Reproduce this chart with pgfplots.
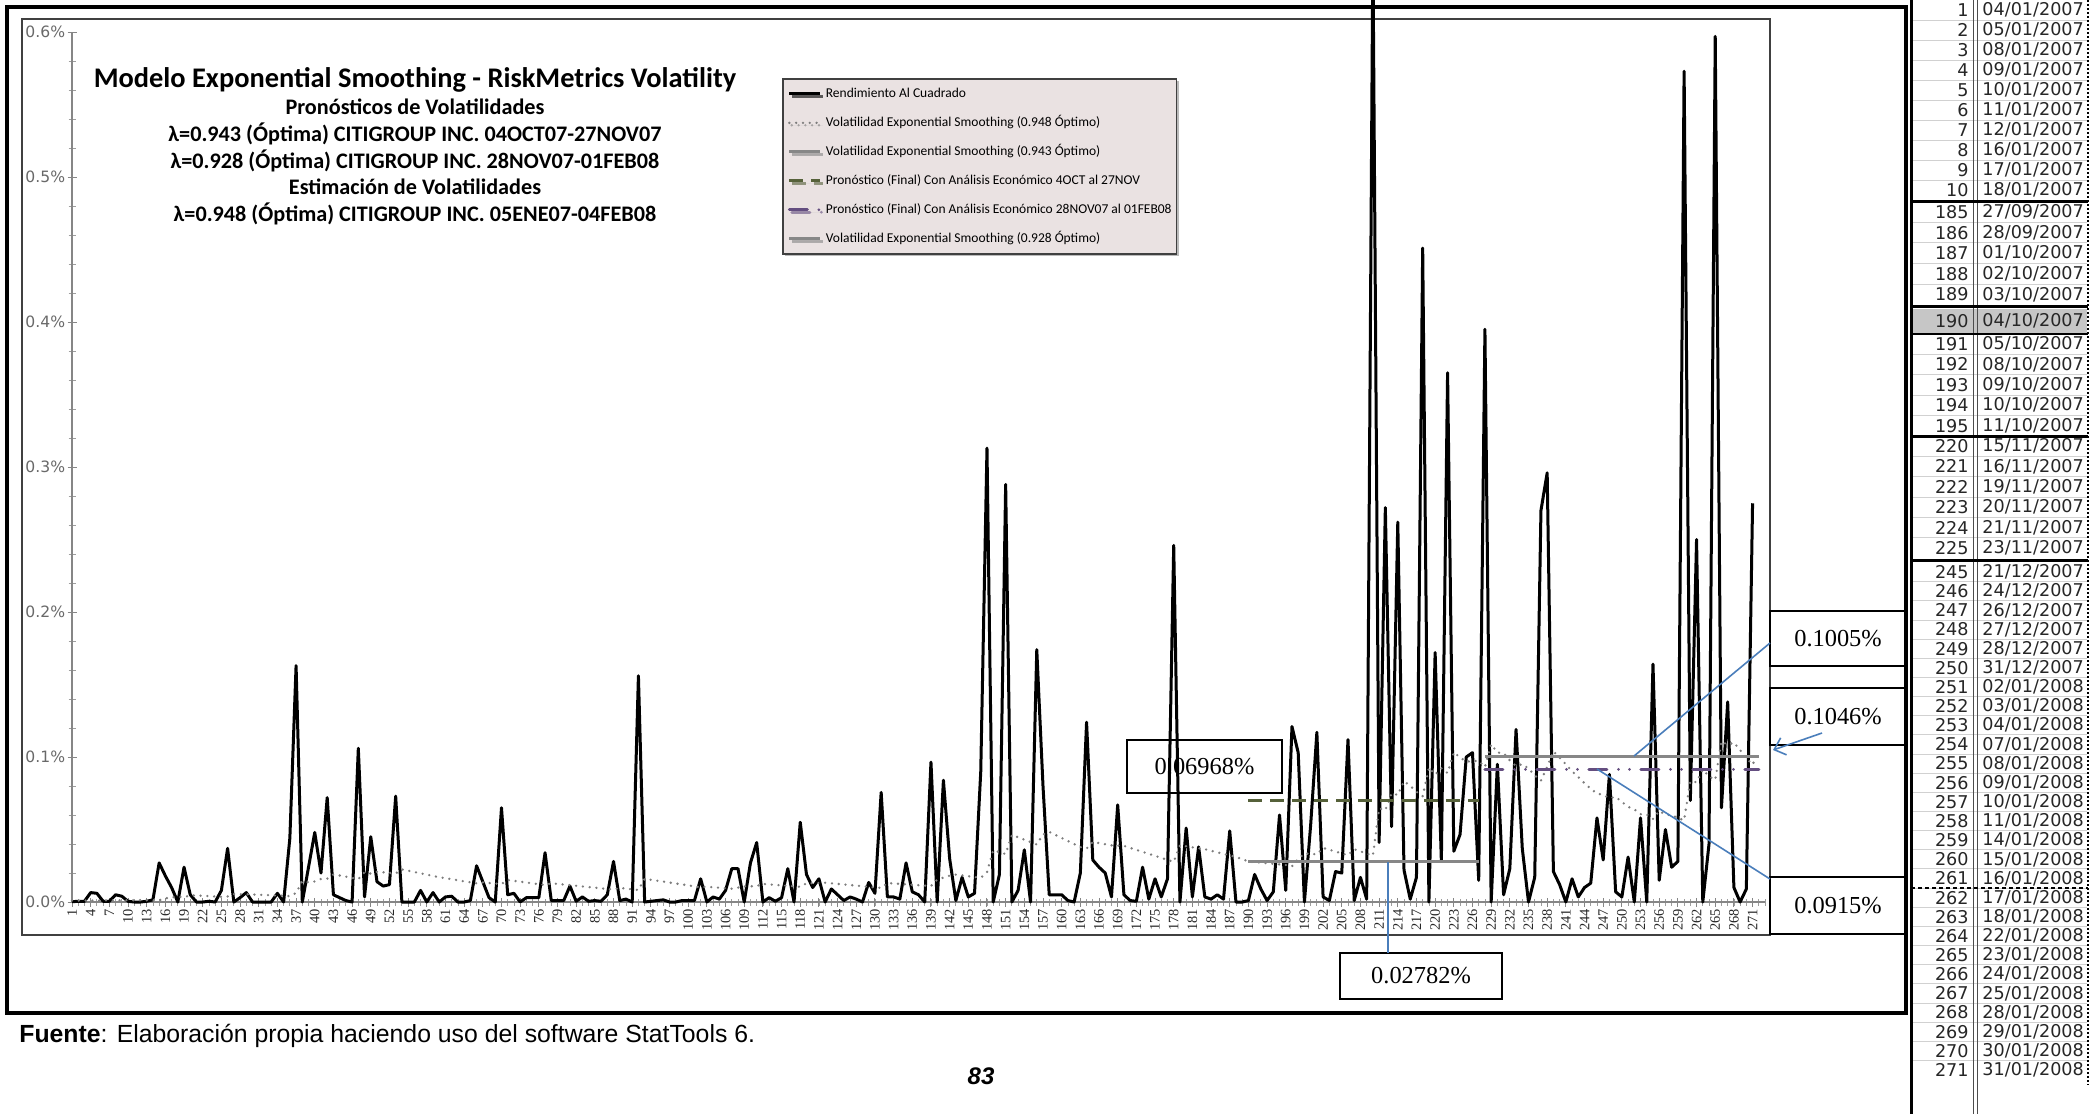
\documentclass[border=0pt]{standalone}
\usepackage{fontspec}
\setmainfont{Liberation Serif}
\newfontfamily\carlito{Carlito}
\newfontfamily\dejavu{DejaVu Sans}
\newfontfamily\arialf{Liberation Sans}
\newfontfamily\timesf{Liberation Serif}
\usepackage{pgfplots}
\pgfplotsset{compat=1.18}
\usetikzlibrary{shadows,arrows.meta}
\definecolor{axgray}{RGB}{134,134,134}
\definecolor{labgray}{RGB}{105,105,105}
\definecolor{fgray}{RGB}{135,135,135}
\definecolor{dotgray}{RGB}{125,125,125}
\definecolor{olivedash}{RGB}{86,97,58}
\definecolor{purp}{RGB}{100,78,128}
\definecolor{legbg}{RGB}{234,226,226}
\definecolor{annblue}{RGB}{74,126,187}
\begin{document}
\begin{tikzpicture}
\begin{scope}[x=0.5pt,y=-0.5pt]
\fill[white] (0,0) rectangle (2096,1114);
\draw[line width=0.8pt, draw=black!75] (22,19) rectangle (1770,935);
\end{scope}

\begin{axis}[
  at={(36pt,-451pt)}, anchor=south west,
  scale only axis, width=846.5pt, height=435pt,
  xmin=1, xmax=273, ymin=0, ymax=0.6,
  axis x line=bottom, axis y line=left,
  axis line style={-, draw=axgray, line width=0.6pt},
  clip=false, no markers,
  xtick={1,4,...,271},
  minor xtick={1,...,273},
  ytick={0,0.1,0.2,0.3,0.4,0.5,0.6},
  yticklabels={0.0\%,0.1\%,0.2\%,0.3\%,0.4\%,0.5\%,0.6\%},
  minor y tick num=4,
  tick align=center,
  major tick length=4.5pt, minor tick length=3.5pt,
  tick style={draw=axgray, line width=0.5pt},
  minor tick style={draw=axgray!80, line width=0.4pt},
  xticklabel={\pgfmathtruncatemacro\mytick{\tick}\mytick},
  xticklabel style={rotate=90, anchor=east, font=\timesf\fontsize{7.2}{7.5}\selectfont, text=black!85, inner sep=1pt},
  yticklabel style={font=\dejavu\fontsize{7.8}{8}\selectfont, text=labgray, inner sep=1pt},
  legend style={at={(axis description cs:0.4194,0.9471)}, anchor=north west, fill=legbg, draw=black!75, line width=0.8pt, inner xsep=2.5pt, inner ysep=4.2pt, font=\carlito\fontsize{6.75}{8}\selectfont, row sep=7.9pt, nodes={inner sep=0pt, text height=5pt, text depth=1.6pt}, /tikz/every odd column/.append style={column sep=2pt}, drop shadow={shadow xshift=1.2pt, shadow yshift=-1.2pt, fill=black!45, opacity=0.6}},
  legend cell align=left,
  legend image code/.code={\draw[#1] (0pt,0pt) -- (15.5pt,0pt);},
]
\addplot[black, line width=1.5pt, line join=round] coordinates {
(1,0.0002)(2,0.0005)(3,0.0005)(4,0.0065)(5,0.006)(6,0.0005)(7,0.0005)(8,0.005)(9,0.004)(10,0.0005)
(11,0)(12,0)(13,0.0005)(14,0.0015)(15,0.027)(16,0.018)(17,0.010)(18,0)(19,0.024)(20,0.005)
(21,0)(22,0)(23,0.0005)(24,0)(25,0.008)(26,0.037)(27,0)(28,0.003)(29,0.0065)(30,0)
(31,0)(32,0)(33,0)(34,0.006)(35,0)(36,0.044)(37,0.163)(38,0)(39,0.024)(40,0.048)
(41,0.020)(42,0.072)(43,0.005)(44,0.003)(45,0.001)(46,0)(47,0.106)(48,0.0035)(49,0.045)(50,0.014)
(51,0.011)(52,0.012)(53,0.073)(54,0)(55,0)(56,0)(57,0.008)(58,0)(59,0.0065)(60,0)
(61,0.0035)(62,0.004)(63,0)(64,0)(65,0.001)(66,0.025)(67,0.014)(68,0.003)(69,0)(70,0.065)
(71,0.005)(72,0.006)(73,0)(74,0.003)(75,0.003)(76,0.003)(77,0.034)(78,0.001)(79,0.001)(80,0.001)
(81,0.011)(82,0.0005)(83,0.0035)(84,0.0005)(85,0.001)(86,0.0005)(87,0.005)(88,0.028)(89,0.001)(90,0.002)
(91,0)(92,0.156)(93,0)(94,0.0005)(95,0.001)(96,0.0015)(97,0)(98,0)(99,0.001)(100,0.001)
(101,0.001)(102,0.016)(103,0)(104,0.0035)(105,0.002)(106,0.008)(107,0.023)(108,0.023)(109,0)(110,0.027)
(111,0.041)(112,0)(113,0.003)(114,0.0005)(115,0.003)(116,0.023)(117,0)(118,0.055)(119,0.019)(120,0.010)
(121,0.016)(122,0)(123,0.009)(124,0.005)(125,0.001)(126,0.0035)(127,0.002)(128,0)(129,0.0135)(130,0.006)
(131,0.0756)(132,0.0035)(133,0.0035)(134,0.002)(135,0.027)(136,0.007)(137,0.005)(138,0)(139,0.0965)(140,0)
(141,0.084)(142,0.030)(143,0.001)(144,0.017)(145,0.0035)(146,0.006)(147,0.09)(148,0.313)(149,0)(150,0.019)
(151,0.288)(152,0)(153,0.008)(154,0.036)(155,0)(156,0.174)(157,0.08)(158,0.005)(159,0.005)(160,0.005)
(161,0.001)(162,0)(163,0.02)(164,0.124)(165,0.029)(166,0.024)(167,0.02)(168,0.0035)(169,0.067)(170,0.005)
(171,0.001)(172,0.0005)(173,0.024)(174,0.002)(175,0.016)(176,0.0035)(177,0.016)(178,0.246)(179,0)(180,0.051)
(181,0.0035)(182,0.038)(183,0.0035)(184,0.002)(185,0.005)(186,0.002)(187,0.049)(188,0)(189,0)(190,0.001)
(191,0.019)(192,0.009)(193,0.001)(194,0.007)(195,0.06)(196,0.008)(197,0.121)(198,0.103)(199,0)(200,0.053)
(201,0.117)(202,0.0035)(203,0.001)(204,0.021)(205,0.02)(206,0.112)(207,0.001)(208,0.017)(209,0.002)(210,0.66)
(211,0.041)(212,0.272)(213,0.052)(214,0.262)(215,0.022)(216,0.002)(217,0.017)(218,0.451)(219,0)(220,0.172)
(221,0.028)(222,0.365)(223,0.035)(224,0.0465)(225,0.100)(226,0.103)(227,0.015)(228,0.395)(229,0)(230,0.095)
(231,0.005)(232,0.023)(233,0.119)(234,0.037)(235,0)(236,0.017)(237,0.27)(238,0.296)(239,0.021)(240,0.012)
(241,0)(242,0.016)(243,0.0035)(244,0.010)(245,0.013)(246,0.058)(247,0.029)(248,0.088)(249,0.007)(250,0.0035)
(251,0.031)(252,0)(253,0.058)(254,0)(255,0.164)(256,0.015)(257,0.05)(258,0.024)(259,0.028)(260,0.573)
(261,0.07)(262,0.25)(263,0)(264,0.04)(265,0.597)(266,0.065)(267,0.138)(268,0.01)(269,0)(270,0.009)
(271,0.275)};
\addlegendentry{Rendimiento Al Cuadrado}
\addplot[dotgray, line width=1.3pt, line cap=round, dash pattern=on 0pt off 3.4pt] coordinates {
(1,0.001)(10,0.0012)(15,0.0012)(16,0.0025)(17,0.0033)(18,0.0036)(19,0.0034)(20,0.0045)(21,0.0045)(25,0.0036)
(26,0.0038)(27,0.0055)(30,0.0052)(35,0.0043)(36,0.0041)(37,0.0062)(38,0.0144)(39,0.0136)(40,0.0142)(41,0.0159)
(42,0.0161)(43,0.0190)(44,0.0183)(47,0.0158)(48,0.0205)(49,0.0196)(50,0.0209)(53,0.0197)(54,0.0225)(60,0.0171)
(66,0.0129)(67,0.0135)(70,0.0124)(71,0.0152)(77,0.0117)(78,0.0129)(88,0.0086)(89,0.0097)(92,0.0083)(93,0.0160)
(102,0.0102)(103,0.0105)(107,0.0092)(109,0.0107)(111,0.0110)(112,0.0125)(118,0.0105)(119,0.0129)(122,0.0133)(131,0.0097)
(132,0.0131)(139,0.0110)(140,0.0154)(142,0.0182)(143,0.0189)(147,0.0167)(148,0.0205)(149,0.0357)(151,0.0331)(152,0.0463)
(156,0.0397)(157,0.0466)(158,0.0484)(163,0.0379)(164,0.0369)(165,0.0414)(168,0.0391)(170,0.0387)(178,0.0277)(179,0.0391)
(183,0.0364)(188,0.0311)(190,0.0280)(196,0.0255)(197,0.0246)(198,0.0296)(199,0.0335)(201,0.0329)(202,0.0373)(206,0.0323)
(207,0.0364)(210,0.0320)(211,0.0646)(212,0.0633)(213,0.0750)(214,0.0738)(215,0.0833)(216,0.0801)(217,0.0760)(218,0.0730)
(219,0.0927)(220,0.0879)(221,0.0922)(222,0.0889)(223,0.1033)(224,0.0997)(225,0.0969)(226,0.0971)(227,0.0974)(228,0.0931)
(229,0.1088)(230,0.1031)(231,0.1027)(232,0.0977)(233,0.0938)(234,0.0951)(235,0.0921)(236,0.0873)(237,0.0837)(238,0.0933)
(239,0.1039)(240,0.0996)(241,0.0950)(242,0.0901)(243,0.0862)(244,0.0819)(245,0.0781)(246,0.0748)(247,0.0739)(248,0.0716)
(249,0.0725)(250,0.0691)(251,0.0657)(252,0.0639)(253,0.0606)(254,0.0604)(255,0.0573)(256,0.0628)(257,0.0603)(258,0.0598)
(259,0.0579)(260,0.0564)(261,0.0833)(262,0.0826)(263,0.0913)(264,0.0866)(265,0.0842)(266,0.1108)(267,0.1084)(268,0.1100)
(269,0.1048)(270,0.0994)(271,0.0947)(272,0.1041)};
\addlegendentry{Volatilidad Exponential Smoothing (0.948 Óptimo)}
\addplot[fgray, line width=1.5pt] coordinates {(190,0.02782) (227,0.02782)};
\addlegendentry{Volatilidad Exponential Smoothing (0.943 Óptimo)}
\addplot[olivedash, line width=1.5pt, dash pattern=on 7pt off 4pt] coordinates {(190,0.06968) (227,0.06968)};
\addlegendentry{Pronóstico (Final) Con Análisis Económico 4OCT al 27NOV}
\addplot[purp, line width=1.5pt, line cap=round, dash pattern=on 9pt off 5.75pt on 0pt off 5.5pt on 0pt off 5.75pt] coordinates {(228,0.0915) (272,0.0915)};
\addlegendentry{Pronóstico (Final) Con Análisis Económico 28NOV07 al 01FEB08}
\addplot[fgray, line width=1.5pt] coordinates {(228,0.1005) (272,0.1005)};
\addlegendentry{Volatilidad Exponential Smoothing (0.928 Óptimo)}
\end{axis}

\begin{scope}[x=0.5pt,y=-0.5pt]
% titles
\node[font=\carlito\bfseries\fontsize{14.2}{16}\selectfont] at (415,80) {Modelo Exponential Smoothing - RiskMetrics Volatility};
\begin{scope}[every node/.style={font=\carlito\bfseries\fontsize{11.1}{12}\selectfont}]
\node at (415,107) {Pronósticos de Volatilidades};
\node at (415,134) {λ=0.943 (Óptima) CITIGROUP INC. 04OCT07-27NOV07};
\node at (415,161) {λ=0.928 (Óptima) CITIGROUP INC. 28NOV07-01FEB08};
\node at (415,187) {Estimación de Volatilidades};
\node at (415,214) {λ=0.948 (Óptima) CITIGROUP INC. 05ENE07-04FEB08};
\end{scope}
% annotation boxes
\begin{scope}[every node/.style={font=\timesf\fontsize{12.2}{14}\selectfont}]
\draw[line width=0.7pt] (1127,740) rectangle (1282,793); \node at (1204.5,766.5) {0.06968\%};
\draw[line width=0.7pt] (1340,953) rectangle (1502,999); \node at (1421,976) {0.02782\%};
\draw[line width=0.7pt] (1770,611) rectangle (1906,666); \node at (1838,638.5) {0.1005\%};
\draw[line width=0.7pt] (1770,688) rectangle (1906,745); \node at (1838,716.5) {0.1046\%};
\draw[line width=0.7pt] (1770,877) rectangle (1906,934); \node at (1838,905.5) {0.0915\%};
\end{scope}
\draw[annblue, line width=0.8pt] (1770,643) -- (1634,756);
\draw[annblue, line width=0.8pt] (1770,879) -- (1597,769);
\draw[annblue, line width=0.8pt, -{Straight Barb[length=5pt,width=9pt]}] (1822,733) -- (1773,750);
\draw[annblue, line width=0.8pt] (1388,862) -- (1388,953);
% outer frame
\draw[line width=2pt] (7,7) rectangle (1906,1013);
% footer
\node[anchor=west, font=\arialf\fontsize{12.4}{14}\selectfont, inner sep=0pt] at (19,1036) {\textbf{Fuente}: Elaboración propia haciendo uso del software StatTools 6.};
\node[font=\arialf\bfseries\itshape\fontsize{12}{14}\selectfont] at (981,1076) {83};
% table
\fill[gray!45] (1913,309) rectangle (2087,333);
\foreach \y in {10,30,50,70,90,110,130,150,170,212,232.6,253.2,273.8,344,364.4,384.8,405.2,446,466.4,486.8,507.2,527.6}
  \draw[black!18, line width=0.4pt] (1913,\y+10.2) -- (2087,\y+10.2);
\foreach \k in {0,...,25}
  \draw[black!18, line width=0.4pt] (1913,581.6+19.15*\k) -- (2087,581.6+19.15*\k);
\begin{scope}[every node/.style={font=\dejavu\fontsize{8.8}{10}\selectfont, text=black!85, inner sep=0pt}]
\foreach \y/\n/\dd/\mm/\yy in {10/1/04/01/2007, 30/2/05/01/2007, 50/3/08/01/2007, 70/4/09/01/2007, 90/5/10/01/2007, 110/6/11/01/2007, 130/7/12/01/2007, 150/8/16/01/2007, 170/9/17/01/2007, 190/10/18/01/2007,
212/185/27/09/2007, 232.6/186/28/09/2007, 253.2/187/01/10/2007, 273.8/188/02/10/2007, 294.4/189/03/10/2007, 321/190/04/10/2007,
344/191/05/10/2007, 364.4/192/08/10/2007, 384.8/193/09/10/2007, 405.2/194/10/10/2007, 425.6/195/11/10/2007,
446/220/15/11/2007, 466.4/221/16/11/2007, 486.8/222/19/11/2007, 507.2/223/20/11/2007, 527.6/224/21/11/2007, 548/225/23/11/2007,
572/245/21/12/2007, 591.2/246/24/12/2007, 610.3/247/26/12/2007, 629.5/248/27/12/2007, 648.6/249/28/12/2007, 667.8/250/31/12/2007,
686.9/251/02/01/2008, 706.1/252/03/01/2008, 725.2/253/04/01/2008, 744.4/254/07/01/2008, 763.5/255/08/01/2008, 782.7/256/09/01/2008,
801.8/257/10/01/2008, 821/258/11/01/2008, 840.1/259/14/01/2008, 859.3/260/15/01/2008, 878.4/261/16/01/2008, 897.6/262/17/01/2008,
916.7/263/18/01/2008, 935.9/264/22/01/2008, 955/265/23/01/2008, 974.2/266/24/01/2008, 993.3/267/25/01/2008, 1012.5/268/28/01/2008,
1031.6/269/29/01/2008, 1050.8/270/30/01/2008, 1069.9/271/31/01/2008}
{ \node[anchor=east] at (1969,\y) {\n}; \node[anchor=west] at (1982,\y) {\dd/\mm/\yy}; }
\end{scope}
\draw[line width=1.5pt] (1911,0) -- (1911,1114);
\draw[line width=0.5pt, black!70] (1973,0) -- (1973,1114);
\draw[line width=0.5pt, black!70] (1977,0) -- (1977,1114);
\draw[line width=0.7pt, dash pattern=on 1pt off 1pt] (2088,0) -- (2088,1085);
\foreach \y in {201,306,436,560}
  \draw[line width=1.5pt] (1911,\y) -- (2088,\y);
\draw[line width=0.8pt] (1911,334) -- (2088,334);
\draw[line width=0.7pt, dash pattern=on 2pt off 1.5pt] (1911,888) -- (2088,888);
\end{scope}
\pgfresetboundingbox
\path[use as bounding box] (0pt,0pt) rectangle (1048pt,-557pt);
\end{tikzpicture}
\end{document}
